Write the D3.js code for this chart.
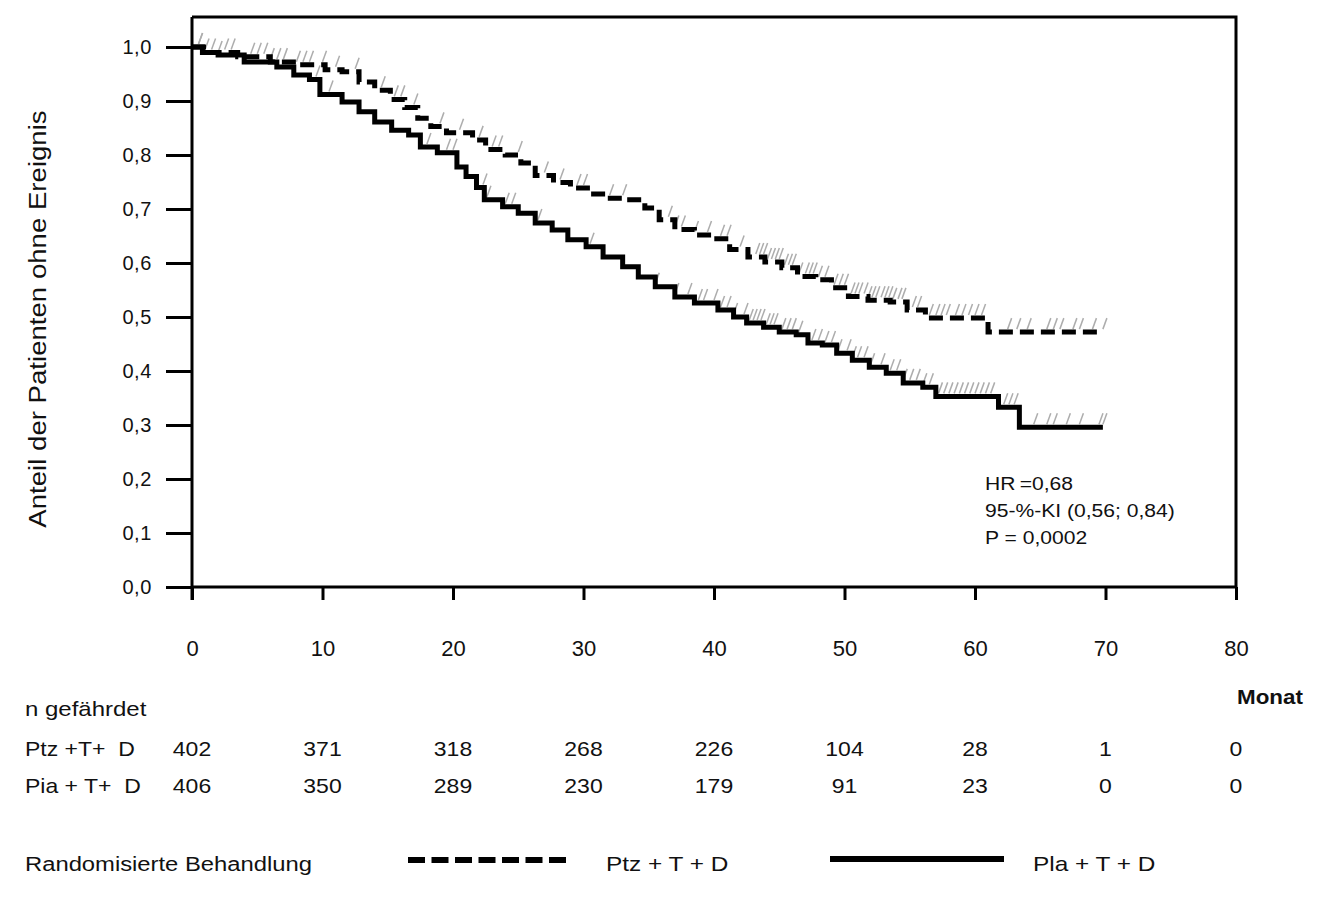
<!DOCTYPE html>
<html>
<head>
<meta charset="utf-8">
<script src="https://cdn.jsdelivr.net/npm/d3@7"></script>
<style>
  body { margin: 0; background: #fff; }
  svg text { font-family: "Liberation Sans", Arial, sans-serif; fill: #111; }
</style>
</head>
<body>
<svg id="chart" width="1341" height="911"></svg>
<script>
'use strict';

// Kaplan-Meier steps (month, proportion without event)
var ptzTime = [0, 1.2, 3.5, 6, 8, 10.2, 11.5, 12.8, 14, 15.2, 16.3, 17.3, 18.3, 19.5, 21.5, 22.5, 24, 25.2, 26.3, 27.7, 29, 30.3, 31.8, 33.3, 34.7, 35.8, 37, 38.5, 40, 41.2, 42.6, 43.9, 45.2, 46.4, 47.8, 49, 50.3, 51.8, 53.5, 54.8, 56.2, 61, 69.8];
var ptzSurv = [1.0, 0.99, 0.982, 0.972, 0.967, 0.958, 0.954, 0.935, 0.92, 0.903, 0.888, 0.868, 0.853, 0.841, 0.828, 0.81, 0.80, 0.785, 0.762, 0.749, 0.739, 0.728, 0.72, 0.717, 0.702, 0.68, 0.662, 0.652, 0.645, 0.625, 0.611, 0.602, 0.591, 0.575, 0.569, 0.554, 0.538, 0.531, 0.528, 0.513, 0.498, 0.472, 0.472];

var plaTime = [0, 0.8, 2, 4, 6.5, 7.8, 9, 9.8, 11.5, 12.8, 14, 15.3, 16.6, 17.5, 18.8, 20.3, 21, 21.8, 22.4, 23.8, 25, 26.3, 27.6, 28.8, 30.2, 31.5, 33, 34.2, 35.5, 37, 38.5, 40.3, 41.5, 42.5, 43.8, 45, 46.3, 47.2, 48.3, 49.4, 50.6, 51.9, 53.2, 54.5, 56, 57, 61.8, 63.4, 69.8];
var plaSurv = [1.0, 0.99, 0.985, 0.972, 0.963, 0.948, 0.94, 0.912, 0.898, 0.88, 0.861, 0.846, 0.837, 0.815, 0.804, 0.778, 0.76, 0.74, 0.717, 0.704, 0.692, 0.674, 0.661, 0.643, 0.63, 0.611, 0.593, 0.574, 0.556, 0.537, 0.526, 0.513, 0.5, 0.489, 0.481, 0.472, 0.467, 0.452, 0.448, 0.433, 0.42, 0.407, 0.396, 0.378, 0.37, 0.353, 0.333, 0.296, 0.296];

// censoring marks (months)
var ptzCensor = [0.5, 1.5, 2.5, 3, 4.5, 5, 5.5, 6, 6.5, 7, 8, 8.5, 9, 10, 11, 12.5, 14.5, 15.5, 16, 17, 19, 20.5, 22, 23, 23.5, 25, 27, 28.2, 29.5, 30, 32, 33, 36.5, 37, 37.5, 38.5, 39.5, 40.5, 41, 42, 43.2, 43.5, 43.8, 44.1, 44.4, 44.7, 45, 45.4, 45.7, 46, 46.5, 47, 47.3, 47.6, 48, 48.5, 49.2, 49.6, 50, 50.5, 50.8, 51.1, 51.5, 51.8, 52.1, 52.4, 52.8, 53.1, 53.4, 53.7, 54.1, 54.4, 55.2, 55.6, 56.5, 57, 57.4, 57.8, 58.5, 59, 59.5, 60, 60.5, 62.5, 63.2, 64, 65.5, 66, 66.5, 67.5, 68, 69, 69.8];
var plaCensor = [0.5, 1, 2, 9.5, 10.5, 18, 19.5, 20, 22.3, 22.6, 24, 24.5, 26.5, 30.5, 35.5, 37, 38, 38.8, 39.2, 40, 40.5, 41, 41.5, 42.3, 42.7, 43, 43.3, 43.6, 44, 44.3, 44.6, 45.2, 45.6, 46, 46.5, 47.5, 48, 48.5, 49, 49.5, 50.2, 50.6, 51, 51.5, 52, 52.8, 53.5, 54, 54.5, 55, 55.5, 56, 56.5, 57.2, 57.6, 58, 58.4, 58.8, 59.2, 59.6, 60, 60.4, 60.8, 61.2, 62.2, 62.6, 63, 64.5, 65.5, 66, 67, 68, 69.5, 69.8];

var xTicks = [0, 10, 20, 30, 40, 50, 60, 70, 80];
var yTicks = [0, 0.1, 0.2, 0.3, 0.4, 0.5, 0.6, 0.7, 0.8, 0.9, 1.0];
var ptzAtRisk = [402, 371, 318, 268, 226, 104, 28, 1, 0];
var plaAtRisk = [406, 350, 289, 230, 179, 91, 23, 0, 0];
var statsLines = ['HR\u2009=0,68', '95-%-KI (0,56; 0,84)', 'P = 0,0002'];

var svg = d3.select('#chart');
var plotLeft = 192, plotRight = 1236, plotTop = 47, plotBottom = 587;

var x = d3.scaleLinear().domain([0, 80]).range([plotLeft, plotRight]);
var y = d3.scaleLinear().domain([0, 1]).range([plotBottom, plotTop]);
var fmt = function (d) { return d3.format('.1f')(d).replace('.', ','); };

// the source text is a bit wider than Arial, so stretch horizontally
function addText (px, py, str, size, sx, anchor, weight) {
  return svg.append('text')
    .attr('transform', 'translate(' + px + ',' + py + ') scale(' + sx + ',1)')
    .attr('text-anchor', anchor || 'start')
    .style('font-size', size + 'px')
    .style('font-weight', weight || 'normal')
    .text(str);
}

// frame (top and right)
svg.append('path')
  .attr('d', 'M' + plotLeft + ',17H' + plotRight + 'V' + plotBottom)
  .attr('fill', 'none').attr('stroke', '#000').attr('stroke-width', 3);

// y axis
var yAxis = svg.append('g')
  .attr('transform', 'translate(' + plotLeft + ',0)')
  .call(d3.axisLeft(y).tickValues(yTicks).tickFormat(fmt).tickSize(26).tickPadding(14));
yAxis.select('.domain').attr('d', 'M0,17V600').attr('stroke-width', 3);
yAxis.selectAll('.tick line').attr('stroke-width', 3);
yAxis.selectAll('.tick text').style('font-size', '20px').style('letter-spacing', '0.6px')
  .attr('fill', '#111');

// x axis
var xAxis = svg.append('g')
  .attr('transform', 'translate(0,' + plotBottom + ')')
  .call(d3.axisBottom(x).tickValues(xTicks).tickFormat(d3.format('d')).tickSize(13).tickPadding(40));
xAxis.select('.domain').attr('d', 'M' + plotLeft + ',0H' + plotRight).attr('stroke-width', 3);
xAxis.selectAll('.tick line').attr('stroke-width', 3);
xAxis.selectAll('.tick text').style('font-size', '22px').attr('fill', '#111');

svg.append('text')
  .attr('transform', 'translate(46,319) rotate(-90) scale(1.15,1)')
  .attr('text-anchor', 'middle')
  .style('font-size', '24px')
  .text('Anteil der Patienten ohne Ereignis');

// censor marks
function survAt (times, surv, t) {
  var i = d3.bisectRight(times, t) - 1;
  return surv[Math.max(0, i)];
}
function drawCensor (times, surv, marks) {
  svg.append('g').selectAll('line')
    .data(marks)
    .enter().append('line')
    .attr('x1', function (d) { return x(d); })
    .attr('y1', function (d) { return y(survAt(times, surv, d)) - 3; })
    .attr('x2', function (d) { return x(d) + 4; })
    .attr('y2', function (d) { return y(survAt(times, surv, d)) - 14; })
    .attr('stroke', '#adadad')
    .attr('stroke-width', 1.5);
}
drawCensor(ptzTime, ptzSurv, ptzCensor);
drawCensor(plaTime, plaSurv, plaCensor);

// curves
var line = d3.line()
  .x(function (d) { return x(d[0]); })
  .y(function (d) { return y(d[1]); })
  .curve(d3.curveStepAfter);

svg.append('path')
  .datum(d3.zip(plaTime, plaSurv))
  .attr('d', line)
  .attr('fill', 'none').attr('stroke', '#000').attr('stroke-width', 5);

svg.append('path')
  .datum(d3.zip(ptzTime, ptzSurv))
  .attr('d', line)
  .attr('fill', 'none').attr('stroke', '#000').attr('stroke-width', 5)
  .attr('stroke-dasharray', '14,7');

// stats box
statsLines.forEach(function (d, i) {
  addText(985, [490, 517, 544][i], d, 18.5, 1.14);
});

// number at risk
addText(1270, 704, 'Monat', 20, 1.12, 'middle', 'bold');
addText(25, 716, 'n gef\u00e4hrdet', 20, 1.2);

function riskRow (label, values, yPos) {
  addText(25, yPos, label, 20, 1.15);
  values.forEach(function (d, i) {
    addText(x(xTicks[i]), yPos, d, 20, 1.15, 'middle');
  });
}
riskRow('Ptz +T+\u00a0 D', ptzAtRisk, 756);
riskRow('Pia + T+\u00a0 D', plaAtRisk, 793);

// legend
addText(25, 871, 'Randomisierte Behandlung', 20, 1.19);
svg.append('line').attr('x1', 408).attr('x2', 572).attr('y1', 860).attr('y2', 860)
  .attr('stroke', '#000').attr('stroke-width', 6).attr('stroke-dasharray', '17,6.5');
addText(606, 871, 'Ptz + T + D', 20, 1.22);
svg.append('line').attr('x1', 830).attr('x2', 1004).attr('y1', 859).attr('y2', 859)
  .attr('stroke', '#000').attr('stroke-width', 6);
addText(1033, 871, 'Pla + T + D', 20, 1.22);
</script>
</body>
</html>
